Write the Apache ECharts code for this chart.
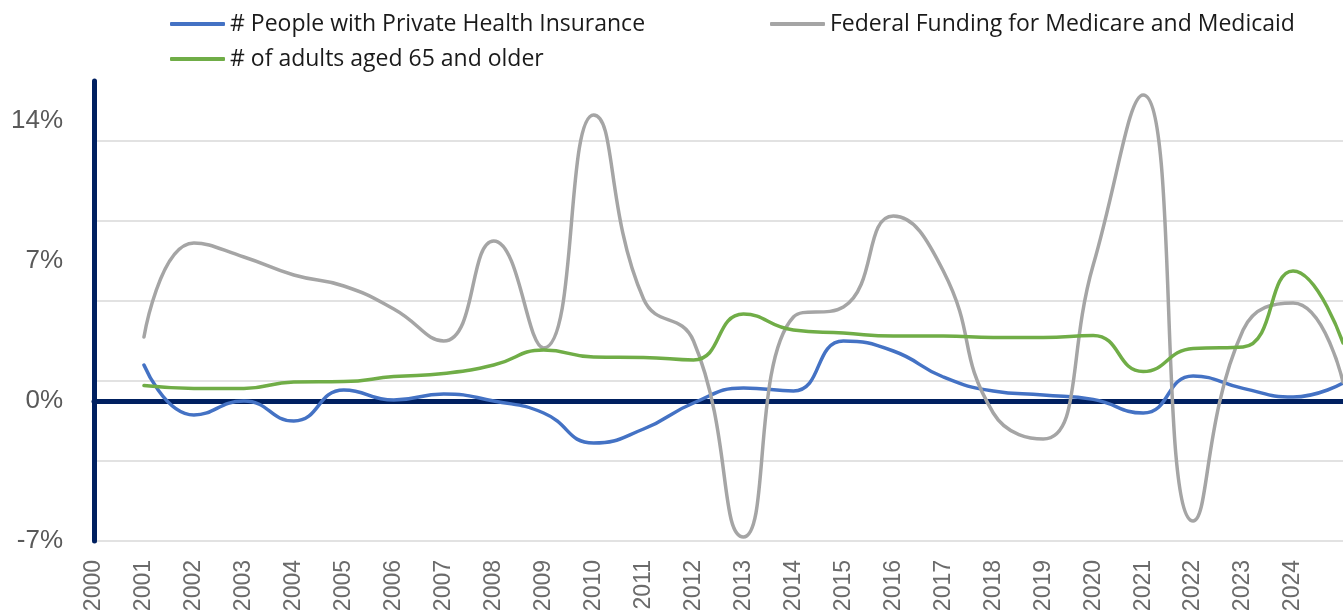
<!DOCTYPE html>
<html>
<head>
<meta charset="utf-8">
<script src="https://cdn.jsdelivr.net/npm/echarts@6/dist/echarts.min.js"></script>
<style>
    html, body { margin: 0; padding: 0; background: #ffffff; }
    #chart { width: 1343px; height: 615px; }
</style>
</head>
<body>
<div id="chart"></div>
<script>
// 年份
const years = ['2000', '2001', '2002', '2003', '2004', '2005', '2006', '2007', '2008', '2009', '2010', '2011', '2012',
    '2013', '2014', '2015', '2016', '2017', '2018', '2019', '2020', '2021', '2022', '2023', '2024', '2025'];

// 各系列 (%)
const privateInsurance = ['-', 1.8, -0.7, 0.0, -1.0, 0.55, 0.05, 0.35, 0.0, -0.6, -2.1, -1.4, -0.1,
    0.65, 0.5, 3.0, 2.5, 1.2, 0.5, 0.3, 0.08, -0.6, 1.25, 0.63, 0.2, 0.9];
const federalFunding = ['-', 3.2, 7.9, 7.2, 6.3, 5.75, 4.6, 3.0, 8.0, 2.65, 14.3, 5.1, 3.0,
    -6.8, 4.2, 4.7, 9.25, 6.5, -0.6, -1.9, 6.8, 15.3, -6.0, 3.55, 4.9, 0.95];
const adults65 = ['-', 0.77, 0.63, 0.63, 0.95, 0.97, 1.22, 1.38, 1.8, 2.55, 2.2, 2.18, 2.05,
    4.35, 3.55, 3.4, 3.25, 3.25, 3.18, 3.17, 3.28, 1.47, 2.63, 2.7, 6.5, 2.9];

const seriesNames = ['# People with Private Health Insurance', 'Federal Funding for Medicare and Medicaid', '# of adults aged 65 and older'];

const chart = echarts.init(document.getElementById('chart'));

const legendBase = {
    orient: 'horizontal',
    padding: 0,
    icon: 'roundRect',
    itemWidth: 55,
    itemHeight: 4,
    textStyle: {
        fontFamily: 'Open Sans',
        fontSize: 23,
        lineHeight: 24,
        color: '#1a1a1a'
    }
};

chart.setOption({
    animation: false,
    color: ['#4472C4', '#A5A5A5', '#70AD47'],
    legend: [
        Object.assign({}, legendBase, {left: 170, top: 12, data: [seriesNames[0]]}),
        Object.assign({}, legendBase, {left: 770, top: 12, data: [seriesNames[1]]}),
        Object.assign({}, legendBase, {left: 170, top: 47, data: [seriesNames[2]]})
    ],
    grid: {
        left: 94,
        right: 0,
        top: 81,
        bottom: 74
    },
    xAxis: [
        {
            type: 'category',
            data: years,
            boundaryGap: false,
            axisLine: {show: false, onZero: false},
            axisTick: {show: false},
            axisLabel: {
                rotate: 90,
                margin: 19,
                fontFamily: 'Liberation Sans',
                fontSize: 23,
                color: '#6b6b6b',
                interval: function (i) {
                    return i < years.length - 1;
                }
            }
        },
        {
            // 0% 基线
            type: 'category',
            data: years,
            boundaryGap: false,
            position: 'bottom',
            axisLine: {
                show: true,
                onZero: true,
                onZeroAxisIndex: 0,
                lineStyle: {color: '#002060', width: 5}
            },
            axisTick: {show: false},
            axisLabel: {show: false},
            splitLine: {show: false}
        }
    ],
    yAxis: [
        {
            type: 'value',
            min: -7,
            max: 16,
            interval: 7,
            axisLine: {show: true, lineStyle: {color: '#002060', width: 5}},
            axisTick: {show: false},
            splitLine: {show: false},
            axisLabel: {
                margin: 31,
                fontFamily: 'Liberation Sans',
                fontSize: 26,
                color: '#595959',
                showMaxLabel: false,
                formatter: '{value}%'
            }
        },
        {
            // 网格线 (-7, -3, 1, 5 ...)
            type: 'value',
            min: 0,
            max: 23,
            interval: 4,
            position: 'left',
            axisLine: {show: false},
            axisTick: {show: false},
            axisLabel: {show: false},
            splitLine: {
                show: true,
                showMaxLine: false,
                lineStyle: {color: '#d9d9d9', width: 1.5}
            }
        }
    ],
    series: [
        {
            name: seriesNames[0],
            type: 'line',
            data: privateInsurance,
            smooth: 0.5,
            showSymbol: false,
            lineStyle: {width: 3.5, cap: 'round'}
        },
        {
            name: seriesNames[1],
            type: 'line',
            data: federalFunding,
            smooth: 0.5,
            showSymbol: false,
            lineStyle: {width: 3.5, cap: 'round'}
        },
        {
            name: seriesNames[2],
            type: 'line',
            data: adults65,
            smooth: 0.5,
            showSymbol: false,
            lineStyle: {width: 3.5, cap: 'round'}
        }
    ]
});
</script>
</body>
</html>
